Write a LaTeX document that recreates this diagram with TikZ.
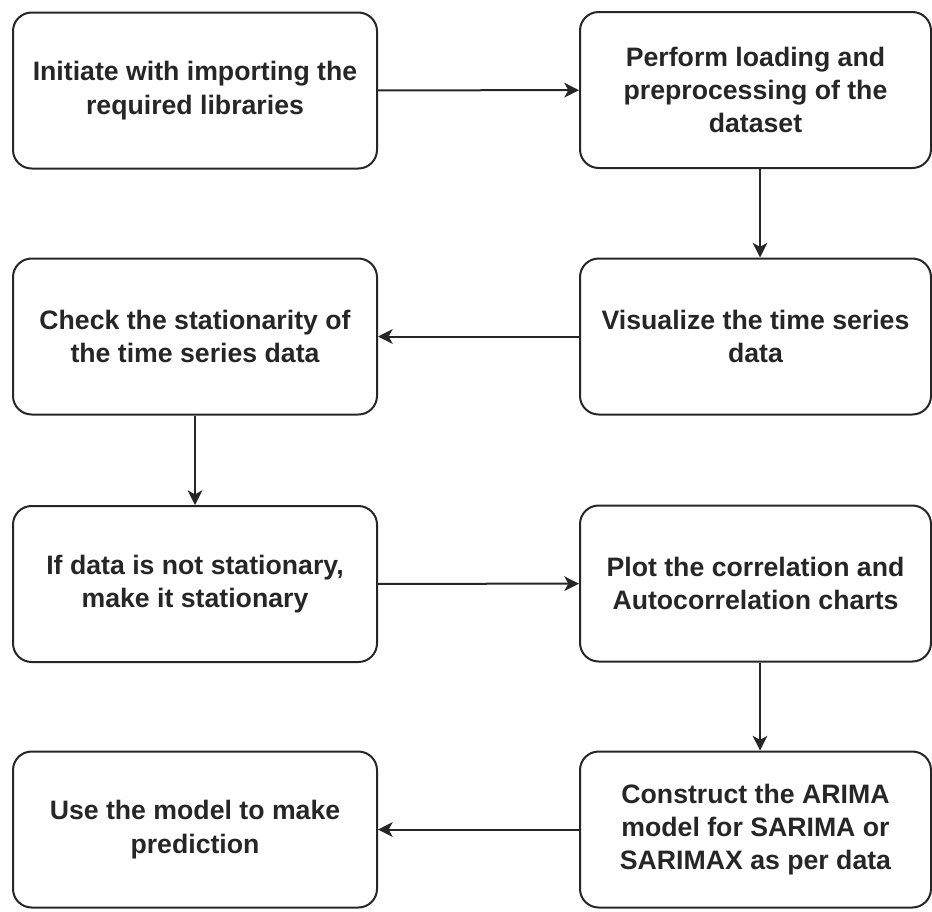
\documentclass[tikz,border=0pt]{standalone}
\usepackage{fontspec}
\setmainfont{Liberation Sans}
\usetikzlibrary{arrows.meta}
\begin{document}
\begin{tikzpicture}[x=0.75pt,y=-0.75pt,
  boxL/.style={draw=black!85,line width=1.5pt,rounded corners=14pt,minimum width=273pt,minimum height=117pt,inner sep=0pt,align=center,font=\fontsize{20}{25}\selectfont\bfseries,text=black!85},
  boxR/.style={boxL,minimum width=263.25pt},
  conn/.style={draw=black!85,line width=1.5pt,-{Stealth[length=11pt,width=11pt,inset=3pt]}}]
\useasboundingbox (0,0) rectangle (932,911);
\node[boxL] (b1) at (195,90.5) {Initiate with importing the\\required libraries};
\node[boxR] (b2) at (755.5,90) {Perform loading and\\preprocessing of the\\dataset};
\node[boxR] (b3) at (755.5,336.5) {Visualize the time series\\data};
\node[boxL] (b4) at (195,336.5) {Check the stationarity of\\the time series data};
\node[boxL] (b5) at (195,584) {If data is not stationary,\\make it stationary};
\node[boxR] (b6) at (755.5,583.5) {Plot the correlation and\\Autocorrelation charts};
\node[boxR] (b7) at (755.5,829.5) {Construct the ARIMA\\model for SARIMA or\\SARIMAX as per data};
\node[boxL] (b8) at (195,829.5) {Use the model to make\\prediction};
\draw[conn] (b1) -- (b2);
\draw[conn] ([xshift=3.4pt]b2.south) -- ([xshift=3.4pt]b3.north);
\draw[conn] (b3) -- (b4);
\draw[conn] (b4) -- (b5);
\draw[conn] (b5) -- (b6);
\draw[conn] ([xshift=3.4pt]b6.south) -- ([xshift=3.4pt]b7.north);
\draw[conn] (b7) -- (b8);
\end{tikzpicture}
\end{document}
